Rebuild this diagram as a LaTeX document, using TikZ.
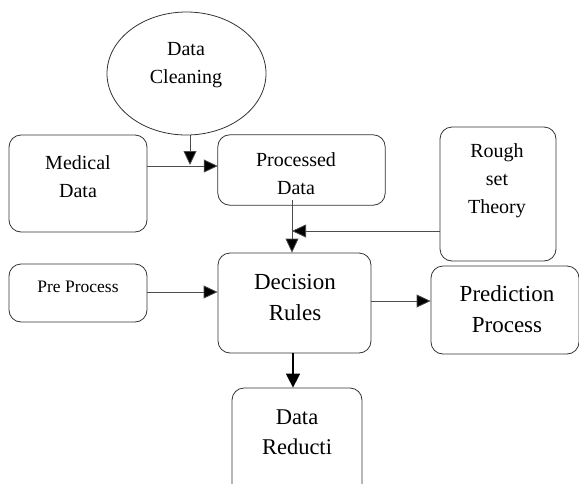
\documentclass[tikz,border=0pt]{standalone}
\usepackage{fontspec}
\setmainfont{Liberation Serif}
\usetikzlibrary{arrows.meta,calc,shapes.geometric}
\begin{document}
\begin{tikzpicture}[x=1pt,y=-1pt,
  box/.style={draw=black!80,line width=0.8pt,rounded corners=12pt,inner sep=0pt},
  lbl/.style={align=center,inner sep=0pt},
  fa/.style={font=\fontsize{20}{28}\selectfont},
  fb/.style={font=\fontsize{23}{31}\selectfont},
  fc/.style={font=\fontsize{17.5}{22}\selectfont},
  conn/.style={draw=black!70,line width=0.8pt,-{Triangle[length=14pt,width=13pt,fill=black]}},
  connb/.style={draw=black,line width=1.6pt,-{Triangle[length=14pt,width=14pt,fill=black]}}
]
\useasboundingbox (0,0) rectangle (579,483);
% shapes
\node[draw=black!80,line width=0.8pt,ellipse,minimum width=159pt,minimum height=123pt,inner sep=0pt] (clean) at (186.5,73.5) {};
\node[box,minimum width=138pt,minimum height=97pt] (med) at (78,183.5) {};
\node[inner sep=0pt,minimum width=167pt,minimum height=70pt] (proc) at (301.5,170) {};
\node[box,minimum width=116pt,minimum height=134pt] (rough) at (498,194) {};
\node[box,minimum width=138pt,minimum height=58pt] (pre) at (78,293) {};
\node[box,minimum width=153pt,minimum height=100pt] (dec) at (294.5,303) {};
\node[box,minimum width=148pt,minimum height=88pt] (pred) at (505,310) {};
\node[box,minimum width=130pt,minimum height=110pt] (red) at (297,443) {};
% texts
\node[lbl,fa] (cleanT) at (186,65) {Data\\Cleaning};
\node[lbl,fa] (medT) at (78,176.5) {Medical\\Data};
\node[lbl,fa] (procT) at (296,173.5) {Processed\\Data};
\node[lbl,fa] (roughT) at (497,180.5) {Rough\\set\\Theory};
\node[lbl,fc] (preT) at (78,287) {Pre Process};
\node[lbl,fb] (decT) at (295,297.5) {Decision\\Rules};
\node[lbl,fb] (predT) at (507,309) {Prediction\\Process};
\node[lbl,font=\fontsize{22.5}{30}\selectfont] (redT) at (297,432) {Data\\Reducti};
% processed box border drawn over its text
\draw[draw=black!80,line width=0.8pt,rounded corners=12pt] (proc.south west) rectangle (proc.north east);
% connectors
\coordinate (j1) at (190,166);
\coordinate (j2) at (292,231);
\coordinate (y3) at (0,292);
\coordinate (y4) at (0,301);
\coordinate (x5) at (293,0);
\draw[conn] (med.east |- j1) -- (proc.west |- j1);
\draw[conn] (clean.south -| j1) -- ([yshift=1pt]j1);
\draw[conn] ($(proc.south -| j2)+(0,-5)$) -- (dec.north -| j2);
\draw[conn] (rough.west |- j2) -- (j2);
\draw[conn] (pre.east |- y3) -- (dec.west |- y3);
\draw[conn] (dec.east |- y4) -- (pred.west |- y4);
\draw[connb] (dec.south -| x5) -- (red.north -| x5);
\end{tikzpicture}
\end{document}
